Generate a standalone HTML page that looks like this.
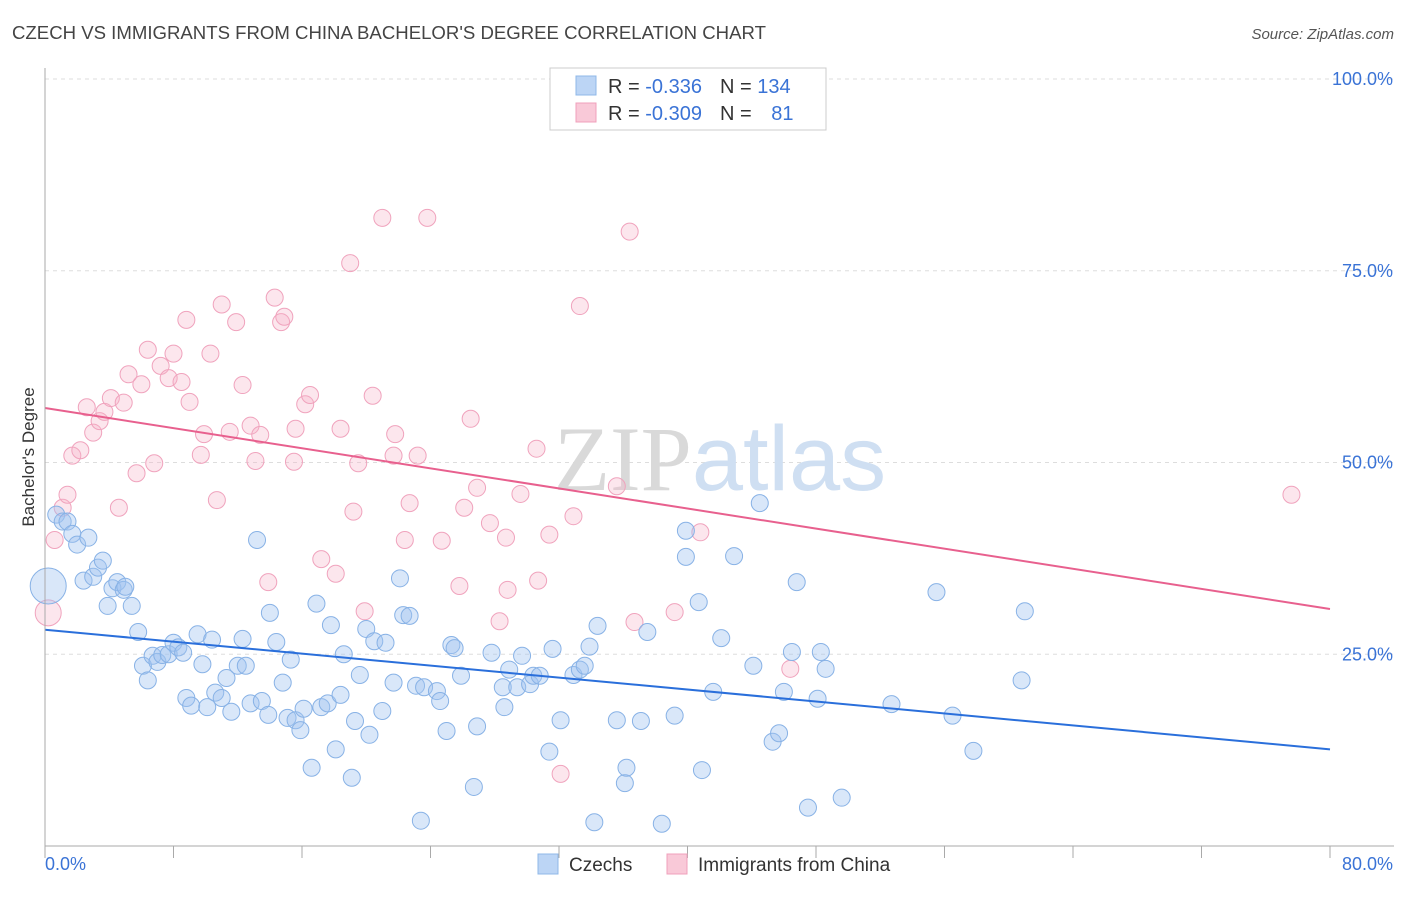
<!DOCTYPE html>
<html><head><meta charset="utf-8"><style>
body{margin:0;background:#fff;font-family:"Liberation Sans",sans-serif;}
svg text{font-family:"Liberation Sans",sans-serif;}
</style></head><body>
<svg id="chart" width="1406" height="892" xmlns="http://www.w3.org/2000/svg">
<text x="12" y="39" font-size="18.6" fill="#444">CZECH VS IMMIGRANTS FROM CHINA BACHELOR'S DEGREE CORRELATION CHART</text>
<text x="1394" y="39" font-size="15" fill="#555" text-anchor="end" font-style="italic">Source: ZipAtlas.com</text>
<g id="grid"></g>
<text x="720" y="490" font-size="92" text-anchor="middle" fill="#dfe6ee"><tspan font-family="Liberation Serif" fill="#d9d9d9">ZIP</tspan><tspan fill="#cfdff2">atlas</tspan></text>
<g id="marks"></g>
<g id="axes"></g>
<text transform="translate(34,457) rotate(-90)" font-size="17" fill="#333" text-anchor="middle">Bachelor's Degree</text>
<g>
<rect x="550" y="68" width="276" height="62" fill="#fff" stroke="#ccc"/>
<rect x="576" y="76" width="20" height="19" fill="#bcd5f5" stroke="#8fb8e8"/>
<rect x="576" y="103" width="20" height="19" fill="#f9c9d8" stroke="#f0a0bb"/>
<text x="608" y="93" font-size="20" fill="#333">R = <tspan fill="#3a73d6">-0.336</tspan><tspan dx="18" fill="#333">N = </tspan><tspan fill="#3a73d6">134</tspan></text>
<text x="608" y="120" font-size="20" fill="#333">R = <tspan fill="#3a73d6">-0.309</tspan><tspan dx="18" fill="#333">N = </tspan><tspan fill="#3a73d6" dx="14">81</tspan></text>
</g>
<g>
<rect x="538" y="854" width="20" height="20" fill="#bcd5f5" stroke="#8fb8e8"/>
<text x="569" y="871" font-size="19" fill="#333">Czechs</text>
<rect x="667" y="854" width="20" height="20" fill="#f9c9d8" stroke="#f0a0bb"/>
<text x="698" y="871" font-size="19" fill="#333">Immigrants from China</text>
</g>
</svg>
<script>
const xTickLabels=["0.0%","80.0%"];
const yTicks=[25,50,75,100];
const yTickLabels=["25.0%","50.0%","75.0%","100.0%"];
const blueX=[0.2,0.7,1.1,1.4,1.7,2.0,2.7,2.4,3.0,3.3,3.6,3.9,4.2,4.5,4.9,5.0,5.4,5.8,6.1,6.4,6.7,7.0,7.3,7.7,8.0,8.3,8.6,8.8,9.1,9.5,9.8,10.1,10.4,10.6,11.0,11.3,11.6,12.0,12.3,12.5,12.8,13.2,13.5,13.9,14.0,14.4,14.8,15.1,15.3,15.6,15.9,16.1,16.6,16.9,17.2,17.6,17.8,18.1,18.4,18.6,19.1,19.3,19.6,20.0,20.2,20.5,21.0,21.2,21.7,22.1,22.3,22.7,23.1,23.4,23.6,24.4,24.6,25.0,25.3,25.5,25.9,26.7,26.9,27.8,28.5,28.6,28.9,29.4,29.7,30.2,30.4,30.8,31.4,31.6,32.1,32.9,33.3,33.6,33.9,34.2,34.4,35.6,36.1,36.2,37.1,37.5,38.4,39.2,39.9,39.9,40.7,40.9,41.6,42.1,42.9,44.1,44.5,45.3,45.7,46.0,46.5,46.8,47.5,48.1,48.3,48.6,49.6,52.7,55.5,56.5,57.8,60.8,61.0];
const blueY=[33.9,43.2,42.3,42.3,40.7,39.3,40.2,34.6,35.1,36.3,37.2,31.3,33.6,34.4,33.4,33.8,31.3,27.9,23.5,21.6,24.8,24.0,24.9,25.0,26.5,25.9,25.2,19.3,18.3,27.6,23.7,18.1,26.9,20.0,19.3,21.9,17.5,23.5,27.0,23.5,18.6,39.9,18.9,17.1,30.4,26.6,21.3,16.7,24.3,16.4,15.1,17.9,10.2,31.6,18.1,18.6,28.8,12.6,19.7,25.0,8.9,16.3,22.3,28.3,14.5,26.7,17.6,26.5,21.3,34.9,30.1,30.0,20.9,3.3,20.7,20.2,18.9,15.0,26.2,25.8,22.2,7.7,15.6,25.2,20.7,18.1,23.0,20.7,24.8,21.1,22.2,22.2,12.3,25.7,16.4,22.3,23.0,23.5,26.0,3.1,28.7,16.4,8.2,10.2,16.3,27.9,2.9,17.0,41.1,37.7,31.8,9.9,20.1,27.1,37.8,23.5,44.7,13.6,14.7,20.1,25.3,34.4,5.0,19.2,25.3,23.1,6.3,18.5,33.1,17.0,12.4,21.6,30.6];
const pinkX=[0.6,0.2,1.1,1.4,1.7,2.2,2.6,3.0,3.4,3.7,4.1,4.9,4.6,5.2,5.7,6.0,6.4,6.8,7.2,7.7,8.0,8.5,8.8,9.0,9.7,9.9,10.3,10.7,11.0,11.5,11.9,12.3,12.8,13.1,13.4,13.9,14.3,14.7,14.9,15.5,15.6,16.2,16.5,17.2,18.1,18.4,19.0,19.2,19.5,19.9,20.4,21.0,21.8,21.7,22.4,22.7,23.2,23.8,24.7,25.8,26.1,26.5,26.9,27.7,28.3,28.7,28.8,29.6,30.6,30.7,31.4,32.1,32.9,33.3,35.6,36.4,36.7,39.2,40.8,46.4,77.6];
const pinkY=[39.9,30.4,44.1,45.8,50.9,51.6,57.2,53.9,55.4,56.6,58.4,57.8,44.1,61.5,48.6,60.2,64.7,49.9,62.6,61.0,64.2,60.5,68.6,57.9,51.0,53.7,64.2,45.1,70.6,54.0,68.3,60.1,54.8,50.2,53.6,34.4,71.5,68.3,69.0,50.1,54.4,57.6,58.8,37.4,35.5,54.4,76.0,43.6,49.9,30.6,58.7,81.9,53.7,50.9,39.9,44.7,50.9,81.9,39.8,33.9,44.1,55.7,46.7,42.1,29.3,40.2,33.4,45.9,51.8,34.6,40.6,9.4,43.0,70.4,46.9,80.1,29.2,30.5,40.9,23.1,45.8];
const blueTrend=[28.2,12.6];
const pinkTrend=[57.1,30.9];

const NS="http://www.w3.org/2000/svg";
const X0=45,X1=1330,Y0=846,Y100=79;
function sx(v){return X0+(v/80)*(X1-X0);}
function sy(v){return Y0-(v/100)*(Y0-Y100);}
function mk(tag,attrs,parent){const e=document.createElementNS(NS,tag);for(const k in attrs)e.setAttribute(k,attrs[k]);parent.appendChild(e);return e;}
const grid=document.getElementById('grid'),marks=document.getElementById('marks'),axes=document.getElementById('axes');
yTicks.forEach((t,i)=>{
  const l=mk('line',{x1:X0,x2:1394,y1:sy(t),y2:sy(t),stroke:'#ddd','stroke-dasharray':'4,4'},grid);
  
  
  const tx=mk('text',{x:1393,y:sy(t)+6,'font-size':18,fill:'#3a73d6','text-anchor':'end'},grid);
  tx.textContent=yTickLabels[i];
  
  
});
const ax=mk('line',{x1:X0,x2:X0,y1:68,y2:Y0,stroke:'#aaa'},axes);


const bx=mk('line',{x1:X0,x2:1394,y1:Y0,y2:Y0,stroke:'#aaa'},axes);


for(let i=0;i<=10;i++){
  const t=mk('line',{x1:sx(i*8),x2:sx(i*8),y1:Y0,y2:Y0+12,stroke:'#aaa'},axes);
  
  
}
[[0,'start',45],[80,'end',1393]].forEach((d,i)=>{
  const tx=mk('text',{x:d[2],y:870,'font-size':18,fill:'#3a73d6','text-anchor':d[1]},axes);
  tx.textContent=xTickLabels[i];
  
  
});
function drawSeries(xs,ys,fill,stroke,name){
  xs.forEach((x,i)=>{
    const r=(i===0&&name==='point-czechs')?18:(i===1&&name==='point-china')?13:8.5;
    const c=mk('circle',{cx:sx(x),cy:sy(ys[i]),r:r,fill:fill,stroke:stroke,'stroke-width':1},marks);
    
    
  });
}
drawSeries(pinkX,pinkY,'rgba(246,178,200,0.32)','#f0a3bd','point-china');
drawSeries(blueX,blueY,'rgba(160,196,240,0.4)','#88b2e6','point-czechs');
const bl=mk('line',{x1:sx(0),y1:sy(blueTrend[0]),x2:sx(80),y2:sy(blueTrend[1]),stroke:'#2a6fdb','stroke-width':2},marks);


const pl=mk('line',{x1:sx(0),y1:sy(pinkTrend[0]),x2:sx(80),y2:sy(pinkTrend[1]),stroke:'#e8608e','stroke-width':2},marks);


</script>
</body></html>
